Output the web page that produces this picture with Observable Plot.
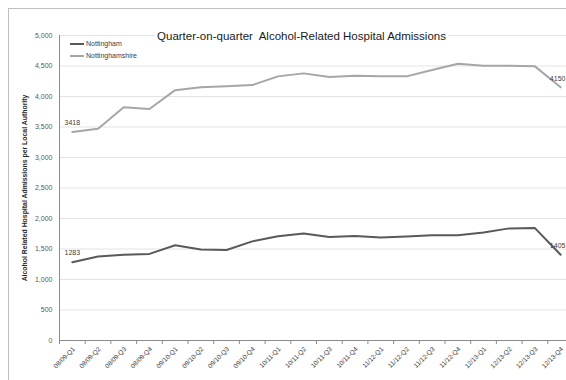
<!DOCTYPE html>
<html>
<head>
<meta charset="utf-8">
<script src="https://cdn.jsdelivr.net/npm/d3@7"></script>
<script src="https://cdn.jsdelivr.net/npm/@observablehq/plot@0.6"></script>
<style>
  html, body { margin: 0; padding: 0; background: #fff; overflow: hidden; }
  #wrap { position: relative; width: 566px; height: 380px; overflow: hidden; font-family: "Liberation Sans", Arial, sans-serif; }
  #frame { position: absolute; left: 8px; top: 8px; width: 600px; height: 420px; border: 1px solid #bfbfbf; box-sizing: border-box; }
  #chart { position: absolute; left: 0; top: 0; }
  #legend { position: absolute; left: 70px; top: 38px; font-size: 7px; color: #404040; line-height: 12px; }
  #legend .row { display: flex; align-items: center; height: 12px; }
  #legend .sw { display: inline-block; width: 14px; height: 2px; margin-right: 2px; }
</style>
</head>
<body>
<div id="wrap">
  <div id="frame"></div>
  <div id="chart"></div>
  <div id="legend"></div>
</div>
<script>
const categories = ["08/09-Q1","08/09-Q2","08/09-Q3","08/09-Q4","09/10-Q1","09/10-Q2","09/10-Q3","09/10-Q4",
  "10/11-Q1","10/11-Q2","10/11-Q3","10/11-Q4","11/12-Q1","11/12-Q2","11/12-Q3","11/12-Q4",
  "12/13-Q1","12/13-Q2","12/13-Q3","12/13-Q4"];
const nottingham = [1283, 1377, 1405, 1420, 1561, 1492, 1483, 1625, 1709, 1754, 1698, 1715, 1687, 1704, 1726, 1726, 1770, 1838, 1843, 1405];
const nottinghamshire = [3418, 3473, 3823, 3796, 4104, 4152, 4170, 4187, 4330, 4379, 4319, 4341, 4330, 4330, 4434, 4538, 4505, 4505, 4494, 4150];
const seriesNames = ["Nottingham", "Nottinghamshire"];
const seriesColors = ["#595959", "#a6a6a6"];
const yTicks = [0, 500, 1000, 1500, 2000, 2500, 3000, 3500, 4000, 4500, 5000];
const titleText = "Quarter-on-quarter  Alcohol-Related Hospital Admissions";
const yTitle = "Alcohol Related Hospital Admissions per Local Authority";

const rows = [];
categories.forEach((c, i) => {
  rows.push({cat: c, series: seriesNames[0], value: nottingham[i], i});
  rows.push({cat: c, series: seriesNames[1], value: nottinghamshire[i], i});
});
const firstLabels = rows.filter(d => d.i === 0);
const lastLabels = rows.filter(d => d.i === categories.length - 1);

const W = 566, H = 380;
const step = (W + 7 - 59) / categories.length;

const chart = Plot.plot({
  width: W,
  height: H,
  marginLeft: 59,
  marginRight: -7,
  marginTop: 35,
  marginBottom: 40,
  style: {fontFamily: "'Liberation Sans', Arial, sans-serif", background: "transparent"},
  x: {type: "point", domain: categories, padding: 0.5, round: false, axis: null},
  y: {domain: [0, 5000], axis: null},
  marks: [
    Plot.gridY(yTicks.filter(t => t > 0), {stroke: "#e3e3e3", strokeOpacity: 1}),
    Plot.axisY(yTicks, {tickSize: 0, tickPadding: 7, tickFormat: d3.format(","), fontSize: 7, fill: "#595959", label: null}),
    Plot.ruleY([0], {stroke: "#8c8c8c"}),
    Plot.ruleX([categories[0]], {y1: 0, y2: 5000, dx: -step / 2, stroke: "#8c8c8c"}),
    Plot.ruleX(categories, {x: d => d, y1: 0, y2: 0, insetBottom: -4, dx: -step / 2, stroke: "#8c8c8c"}),
    Plot.text(categories, {x: d => d, frameAnchor: "bottom", rotate: -45, textAnchor: "end", dx: 3, dy: 9, fontSize: 6.5, fill: "#404040"}),
    Plot.text([yTitle], {frameAnchor: "left", textAnchor: "middle", rotate: -90, dx: -35, fontSize: 6.9, fontWeight: "bold", fill: "#262626"}),
    Plot.line(rows, {x: "cat", y: "value", z: "series", stroke: "series", strokeWidth: 2}),
    Plot.text(firstLabels, {x: "cat", y: "value", text: d => String(d.value), dy: -9, fontSize: 7, fill: "#404040"}),
    Plot.text(lastLabels, {x: "cat", y: "value", text: d => String(d.value), dy: -9, dx: -3, fontSize: 7, fill: "#404040"}),
    Plot.text([titleText], {frameAnchor: "top", dx: -15, dy: -4, fontSize: 11.5, fill: "#1a1a1a", stroke: "white", strokeWidth: 6, paintOrder: "stroke"})
  ],
  color: {domain: seriesNames, range: seriesColors}
});
document.getElementById("chart").appendChild(chart);

const legend = document.getElementById("legend");
seriesNames.forEach((s, i) => {
  const row = document.createElement("div");
  row.className = "row";
  const sw = document.createElement("span");
  sw.className = "sw";
  sw.style.background = seriesColors[i];
  const t = document.createElement("span");
  t.textContent = s;
  row.appendChild(sw);
  row.appendChild(t);
  legend.appendChild(row);
});
</script>
</body>
</html>
